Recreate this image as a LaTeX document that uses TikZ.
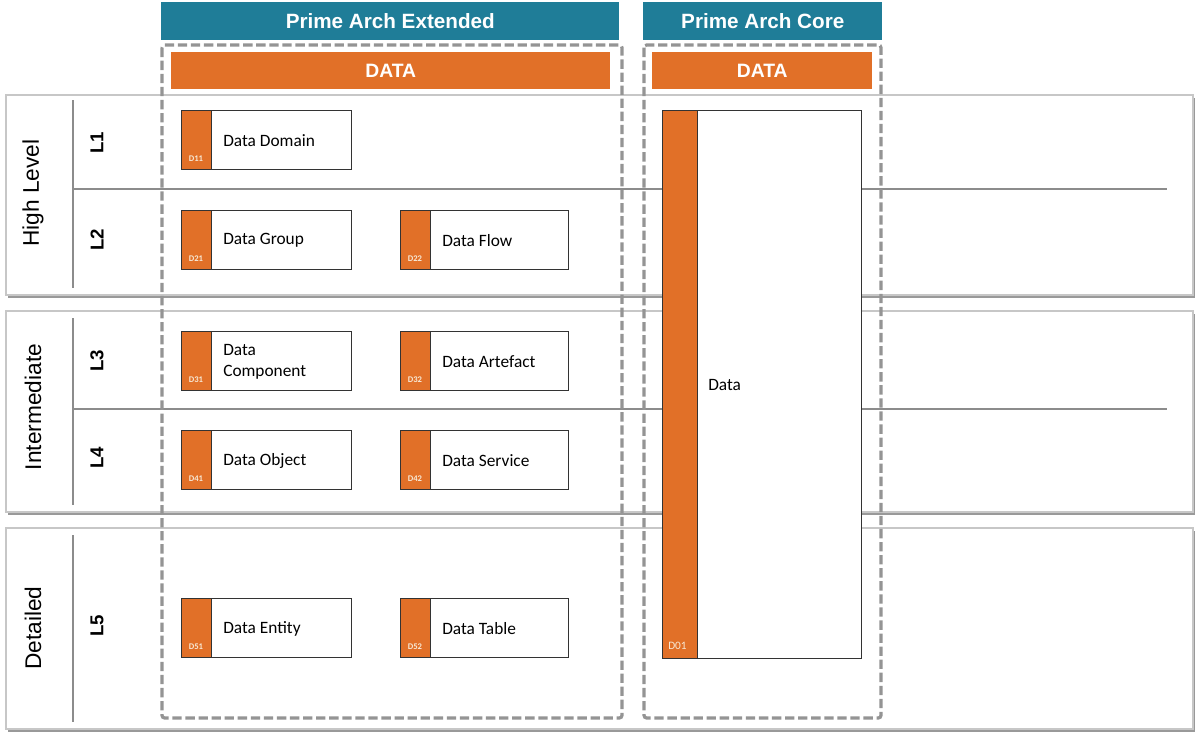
\documentclass[tikz,border=0pt]{standalone}
\usepackage{fontspec}
\setmainfont{Liberation Sans}
\newfontfamily\calib{Carlito}
\definecolor{teal1}{HTML}{1F7D98}
\definecolor{orng}{HTML}{E17028}
\definecolor{codec}{HTML}{F7E9D6}
\begin{document}
\begin{tikzpicture}[x=0.75pt,y=-0.75pt,
  band/.style={fill=white,draw=black!22,line width=0.8pt},
  bandshadow/.style={fill=black!40},
  sepline/.style={draw=black!45,line width=1.1pt},
  dashbox/.style={draw=black!42,line width=2.4pt,dash pattern=on 7pt off 2.8pt,rounded corners=2pt},
  header/.style={fill=teal1,text=white,font=\bfseries\fontsize{15.5}{18}\selectfont,inner sep=0pt,anchor=north west},
  databar/.style={fill=orng,text=white,font=\bfseries\fontsize{14.5}{17}\selectfont,inner sep=0pt,anchor=north west},
  bandlabel/.style={rotate=90,font=\fontsize{17}{20}\selectfont},
  lvl/.style={rotate=90,font=\bfseries\fontsize{14}{16}\selectfont},
  ibox/.style={draw=black!80,fill=white,line width=0.7pt,minimum height=44.25pt,inner sep=0pt,anchor=north west},
  strip/.style={fill=orng},
  itext/.style={font=\calib\fontsize{13}{15.5}\selectfont,anchor=west,align=left,inner sep=0pt},
  code/.style={font=\calib\bfseries\fontsize{6.5}{7.5}\selectfont,text=codec,inner sep=0pt}
]
\useasboundingbox (0,0) rectangle (1200,736);
% bands
\foreach \ya/\yb/\nm in {95/295/b1,311/512/b2,528/729/b3}{
  \fill[bandshadow] (8,\ya+3) rectangle (1195,\yb+3);
  \draw[band] (6,\ya) rectangle (1193,\yb);
}
\node[bandlabel] (hl) at (33,193) {High Level};
\node[bandlabel] (im) at (33,407) {Intermediate};
\node[bandlabel] (dt) at (33,628) {Detailed};
\draw[sepline] (73,100) -- (73,288);
\draw[sepline] (73,318) -- (73,505);
\draw[sepline] (73,535) -- (73,722);
\draw[sepline] (73,189) -- (1167,189);
\draw[sepline] (73,409) -- (1167,409);
\node[lvl] (l1) at (97,143) {L1};
\node[lvl] (l2) at (97,240) {L2};
\node[lvl] (l3) at (97,361) {L3};
\node[lvl] (l4) at (97,458) {L4};
\node[lvl] (l5) at (97,626) {L5};
% headers
\node[header,minimum width=343.5pt,minimum height=28.5pt] (hext) at (161,2) {Prime Arch Extended};
\node[header,minimum width=179.25pt,minimum height=28.5pt] (hcore) at (643,2) {Prime Arch Core};
\draw[dashbox] (162,45) rectangle (622,718);
\draw[dashbox] (644,45) rectangle (881,718);
\node[databar,minimum width=329.25pt,minimum height=27.75pt] (dext) at (171,52) {DATA};
\node[databar,minimum width=165pt,minimum height=27.75pt] (dcore) at (652,52) {DATA};
% item boxes
\foreach \nm/\x/\y/\w/\cd/\tx in {
  d11/181/110/127.5pt/D11/Data Domain,
  d21/181/210/127.5pt/D21/Data Group,
  d22/400/210/126pt/D22/Data Flow,
  d31/181/331/127.5pt/D31/{Data\\Component},
  d32/400/331/126pt/D32/Data Artefact,
  d41/181/430/127.5pt/D41/Data Object,
  d42/400/430/126pt/D42/Data Service,
  d51/181/598/127.5pt/D51/Data Entity,
  d52/400/598/126pt/D52/Data Table}{
  \node[ibox,minimum width=\w] (\nm) at (\x,\y) {};
  \fill[strip] (\nm.north west) rectangle ([xshift=22.5pt]\nm.south west);
  \draw[black!80,line width=0.7pt] (\nm.north west) rectangle (\nm.south east);
  \draw[black!80,line width=0.7pt] ([xshift=22.5pt]\nm.north west) -- ([xshift=22.5pt]\nm.south west);
  \node[itext] (\nm t) at ([xshift=31.5pt,yshift=-0.5pt]\nm.west) {\tx};
  \node[code] (\nm c) at ([xshift=11.25pt,yshift=8.5pt]\nm.south west) {\cd};
}
% big core box
\node[ibox,minimum width=149.25pt,minimum height=411pt] (d01) at (662,110) {};
\fill[strip] (d01.north west) rectangle ([xshift=26.25pt]d01.south west);
\draw[black!80,line width=0.7pt] (d01.north west) rectangle (d01.south east);
\draw[black!80,line width=0.7pt] ([xshift=26.25pt]d01.north west) -- ([xshift=26.25pt]d01.south west);
\node[itext] (d01t) at (708,385) {Data};
\node[code,font=\calib\fontsize{8.5}{9.5}\selectfont,anchor=west] (d01c) at (668,646) {D01};
\end{tikzpicture}
\end{document}
